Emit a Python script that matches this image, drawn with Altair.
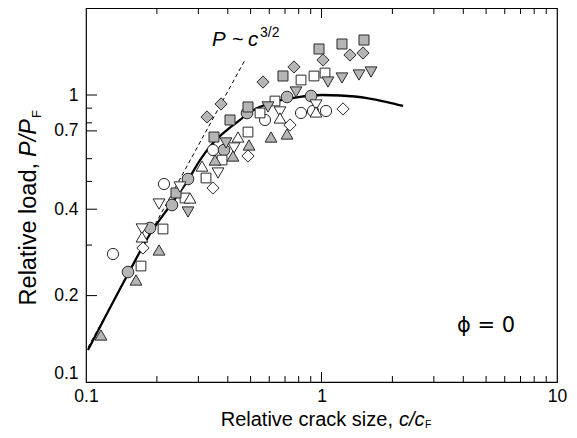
import altair as alt
import pandas as pd

FONT = "Liberation Sans"
W, H = 471, 374

# ---------------- data ----------------
open_circle_x = [0.1302, 0.2144, 0.3462, 0.5755, 0.8185, 0.9203, 1.0450]
open_circle_y = [0.2793, 0.4897, 0.6432, 0.8185, 0.8657, 0.8799, 0.8799]

gray_circle_x = [0.1508, 0.1870, 0.2318, 0.2711, 0.3855, 0.4827, 0.7136, 0.9025]
gray_circle_y = [0.2417, 0.3441, 0.4137, 0.5097, 0.6432, 0.8657, 0.9841, 0.9920]

open_square_x = [0.1712, 0.2123, 0.2633, 0.3233, 0.3782, 0.4874, 0.5481, 0.6346, 0.8185, 0.9294, 1.0349]
open_square_y = [0.2536, 0.3413, 0.4377, 0.5138, 0.5935, 0.7431, 0.8657, 0.9530, 1.1279, 1.1648, 1.1932]

gray_square_x = [0.2411, 0.3496, 0.4088, 0.4874, 0.6862, 0.9759, 1.2219, 1.5151]
gray_square_y = [0.4556, 0.7139, 0.8185, 0.9085, 1.1648, 1.4467, 1.5059, 1.5547]

open_diamond_x = [0.1746, 0.3462, 0.4874, 0.7348, 1.2340]
open_diamond_y = [0.2931, 0.4742, 0.6130, 0.7862, 0.8941]

gray_diamond_x = [0.3265, 0.3745, 0.5644, 0.7641, 1.0148, 1.3213, 1.5003]
gray_diamond_y = [0.8383, 0.9305, 1.1099, 1.2522, 1.3243, 1.3785, 1.4008]

open_down_x = [0.1729, 0.2042, 0.2506, 0.3636, 0.4251, 0.6664, 0.9476]
open_down_y = [0.3413, 0.4170, 0.4780, 0.5348, 0.6537, 0.8728, 0.9232]

gray_down_x = [0.2711, 0.3931, 0.5926, 0.7793, 1.0656, 1.2219, 1.4427, 1.6232]
gray_down_y = [0.3911, 0.6805, 0.9085, 1.0244, 1.1099, 1.1461, 1.1742, 1.2027]

open_up_x = [0.1729, 0.2765, 0.3109, 0.4420, 0.6664, 0.9476]
open_up_y = [0.3202, 0.4377, 0.5655, 0.7139, 0.8318, 0.8728]

gray_up_x = [0.1158, 0.1631, 0.2042, 0.3530, 0.4209, 0.4922, 0.6104, 0.7136]
gray_up_y = [0.1458, 0.2267, 0.2884, 0.5935, 0.6130, 0.6697, 0.7139, 0.7313]

curve_x = [0.102, 0.1508, 0.187, 0.2318, 0.2711, 0.3049, 0.3462, 0.3968, 0.4508,
           0.4827, 0.55, 0.6224, 0.73, 0.81, 1.005, 1.2, 1.56, 1.9, 2.22]
curve_y = [0.1293, 0.2379, 0.3279, 0.4205, 0.5056, 0.5935, 0.6805, 0.7551, 0.8185,
           0.8587, 0.91, 0.9454, 0.972, 0.986, 1.0, 0.996, 0.976, 0.945, 0.916]

slope_x = [0.102, 0.473]
slope_y = [0.132, 1.324]

# tick positions and their printed labels (the figure prints "0.7" at the 0.75 level)
x_labels = [0.1, 1, 10]
y_label_pos = [0.1, 0.2, 0.4, 0.75, 1]
y_label_txt = ["0.1", "0.2", "0.4", "0.7", "1"]
x_minor = [0.2, 0.3, 0.4, 0.5, 0.6, 0.7, 0.8, 0.9, 2, 3, 4, 5, 6, 7, 8, 9]
x_major = [1]
y_minor = [0.3, 0.5, 0.6, 0.8, 0.9]
y_major = [0.2, 0.4, 0.75, 1]

# ---------------- chart ----------------
xs = alt.Scale(type="log", domain=[0.1, 10])
ys = alt.Scale(type="log", domain=[0.1, 2.01])
label_expr = " : ".join(
    f"abs(datum.value - {p}) < 1e-6 ? '{t}'" for p, t in zip(y_label_pos, y_label_txt)
) + " : ''"
xaxis = alt.Axis(values=x_labels, format="~g", ticks=False, domain=False, grid=False,
                 labelFont=FONT, labelFontSize=17.5, labelColor="black",
                 labelPadding=5, labelFlush=False, labelOverlap=False, title=None)
yaxis = alt.Axis(values=y_label_pos, labelExpr=label_expr, ticks=False, domain=False, grid=False,
                 labelFont=FONT, labelFontSize=17.5, labelColor="black",
                 labelPadding=8, labelFlush=True, labelOverlap=False, title=None)

def X(f="x"):
    return alt.X(f + ":Q", scale=xs, axis=xaxis)

def Y(f="y"):
    return alt.Y(f + ":Q", scale=ys, axis=yaxis)

layers = []

slope_df = pd.DataFrame({"x": slope_x, "y": slope_y})
layers.append(alt.Chart(slope_df).mark_line(color="black", strokeWidth=1, strokeDash=[4, 3])
              .encode(x=X(), y=Y()))

curve_df = pd.DataFrame({"x": curve_x, "y": curve_y})
layers.append(alt.Chart(curve_df).mark_line(color="black", strokeWidth=2.3, interpolate="monotone")
              .encode(x=X(), y=Y()))

# inward ticks
for vals, ln in [(x_minor, 6), (x_major, 10)]:
    d = pd.DataFrame({"v": vals})
    layers.append(alt.Chart(d).mark_rule(color="black", strokeWidth=1)
                  .encode(x=X("v"), y=alt.value(H), y2=alt.value(H - ln)))
    layers.append(alt.Chart(d).mark_rule(color="black", strokeWidth=1)
                  .encode(x=X("v"), y=alt.value(0), y2=alt.value(ln)))
for vals, ln in [(y_minor, 6), (y_major, 11)]:
    d = pd.DataFrame({"v": vals})
    layers.append(alt.Chart(d).mark_rule(color="black", strokeWidth=1)
                  .encode(y=Y("v"), x=alt.value(0), x2=alt.value(ln)))

GRAY = "#b5b5b5"
series = [
    (open_circle_x, open_circle_y, "circle", "white", 125),
    (gray_circle_x, gray_circle_y, "circle", GRAY, 135),
    (open_square_x, open_square_y, "square", "white", 95),
    (gray_square_x, gray_square_y, "square", GRAY, 100),
    (open_diamond_x, open_diamond_y, "diamond", "white", 150),
    (gray_diamond_x, gray_diamond_y, "diamond", GRAY, 150),
    (open_down_x, open_down_y, "triangle-down", "white", 140),
    (gray_down_x, gray_down_y, "triangle-down", GRAY, 140),
    (open_up_x, open_up_y, "triangle-up", "white", 140),
    (gray_up_x, gray_up_y, "triangle-up", GRAY, 140),
]
for sx, sy, shp, fill, size in series:
    d = pd.DataFrame({"x": sx, "y": sy})
    layers.append(alt.Chart(d).mark_point(shape=shp, filled=True, fill=fill, stroke="#2a2a2a",
                                          strokeWidth=1, size=size, opacity=1, fillOpacity=1)
                  .encode(x=X(), y=Y()))

def txt(t, x, y, size, align="left", italic=False, angle=0, baseline="alphabetic", font=FONT):
    d = pd.DataFrame({"t": [t]})
    kw = dict(font=font, fontSize=size, align=align, baseline=baseline, color="black")
    if italic:
        kw["fontStyle"] = "italic"
    if angle:
        kw["angle"] = angle
    return alt.Chart(d).mark_text(**kw).encode(text="t:N", x=alt.value(x), y=alt.value(y))

# x-axis title
layers.append(txt("Relative crack size,", 307, 418, 20, align="right"))
layers.append(txt("c/c", 313, 418, 20, italic=True))
layers.append(txt("F", 339, 420, 10.5))
# y-axis title
layers.append(txt("Relative load,", -50, 155, 23.5, align="right", angle=270))
layers.append(txt("P/P", -50, 149, 23.5, italic=True, angle=270))
layers.append(txt("F", -45, 110, 13, angle=270))
# annotations
layers.append(txt("P", 126, 38, 20.5, italic=True))
layers.append(txt("~", 146, 38, 20))
layers.append(txt("c", 162, 38, 20.5, italic=True))
layers.append(txt("3/2", 174, 29, 14))
layers.append(txt("ϕ = 0", 371, 324, 21, font="DejaVu Sans"))

chart = alt.layer(*layers).properties(
    width=W, height=H,
    padding={"left": 78, "top": 0, "right": 12, "bottom": 48},
    autosize=alt.AutoSizeParams(type="none"),
).configure_view(stroke="black", strokeWidth=1.2)

chart.save("out.html", embed_options={"renderer": "svg", "actions": False})
